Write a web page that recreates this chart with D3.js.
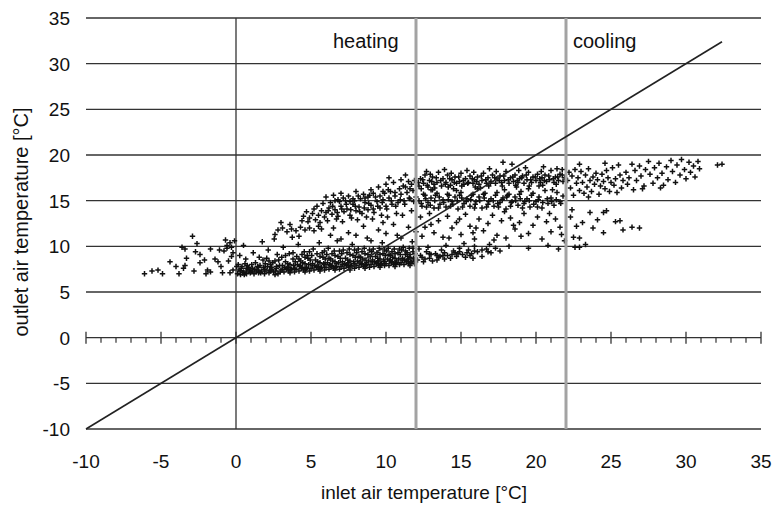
<!DOCTYPE html>
<html><head><meta charset="utf-8">
<script src="https://cdn.jsdelivr.net/npm/d3@7"></script>
<style>body{margin:0;background:#fff}svg{display:block;font-family:"Liberation Sans",Arial,sans-serif}</style>
</head><body><svg id="c" width="772" height="506"></svg>
<script>
const xTicks = [-10,-5,0,5,10,15,20,25,30,35];
const yTicks = [-10,-5,0,5,10,15,20,25,30,35];
const modeLines = [{x:12,label:"heating"},{x:22,label:"cooling"}];
const diagLine = [[-10,-10],[32.4,32.4]];

const belowZero = [[-6.1,7.0],[-5.6,7.3],[-5.2,7.4],[-4.9,7.0],[-4.4,8.3],[-3.8,7.0],[-3.5,7.6],[-3.4,7.9],[-3.3,8.7],[-2.9,11.1],[-3.6,9.9],[-3.4,9.7],[-2.6,10.3],[-2.7,9.4],[-2.4,9.1],[-2.4,8.2],[-2.1,8.5],[-1.9,7.4],[-1.7,9.7],[-1.7,7.2],[-1.2,8.3],[-1.4,8.6],[-1.1,9.6],[-0.7,10.7],[-0.6,9.8],[-0.8,9.5],[-0.9,7.1],[-0.4,7.1],[-0.5,8.4],[-0.3,9.9],[-0.4,10.4],[-0.2,9.3],[-0.6,10.1],[-0.3,8.9],[-1.0,7.8],[-2.0,7.0],[-4.0,7.8],[-2.8,7.3],[-0.1,10.6],[-0.2,7.4]];

const lowBand = [[0.1,7.0],[0.2,7.4],[0.3,6.9],[0.4,7.8],[0.5,7.2],[0.6,8.1],[0.7,7.0],[0.8,7.5],[0.9,7.3],[0.15,8.0],[0.35,7.6],[0.55,6.9],[0.75,7.9],[0.95,7.1],[0.25,9.0],[0.65,8.6],[0.85,7.7],[0.45,7.1],[0.05,7.8],[0.5,10.1],
[1.0,7.2],[1.1,7.6],[1.2,7.0],[1.3,8.2],[1.4,7.4],[1.5,7.1],[1.6,7.9],[1.7,7.3],[1.8,8.5],[1.9,7.0],[1.05,8.0],[1.25,7.5],[1.45,7.8],[1.65,7.1],[1.85,7.7],[1.15,9.3],[1.55,8.8],[1.75,10.5],[1.35,7.2],[1.95,8.1],
[2.0,7.3],[2.1,7.8],[2.2,7.1],[2.3,8.0],[2.4,7.5],[2.5,7.2],[2.6,8.4],[2.7,7.6],[2.8,7.0],[2.9,7.9],[2.05,8.7],[2.25,7.4],[2.45,8.2],[2.65,7.3],[2.85,8.5],[2.15,9.6],[2.55,10.8],[2.75,9.1],[2.35,7.7],[2.95,7.2],
[3.0,7.4],[3.1,7.9],[3.2,7.2],[3.3,8.3],[3.4,7.6],[3.5,7.3],[3.6,8.0],[3.7,7.5],[3.8,8.6],[3.9,7.2],[3.05,8.8],[3.25,7.7],[3.45,8.1],[3.65,7.4],[3.85,7.9],[3.15,9.9],[3.55,9.2],[3.75,11.0],[3.35,7.5],[3.95,8.3],
[4.0,7.5],[4.1,8.0],[4.2,7.3],[4.3,8.4],[4.4,7.7],[4.5,7.4],[4.6,8.1],[4.7,7.6],[4.8,8.7],[4.9,7.3],[4.05,8.9],[4.25,7.8],[4.45,8.2],[4.65,7.5],[4.85,8.0],[4.15,10.2],[4.55,9.4],[4.75,9.0],[4.35,7.6],[4.95,8.5],
[5.0,7.6],[5.1,8.1],[5.2,7.4],[5.3,8.5],[5.4,7.8],[5.5,7.5],[5.6,8.2],[5.7,7.7],[5.8,8.8],[5.9,7.4],[5.05,9.0],[5.25,7.9],[5.45,8.3],[5.65,7.6],[5.85,8.1],[5.15,9.7],[5.55,10.4],[5.75,9.3],[5.35,7.7],[5.95,8.6],
[6.0,7.7],[6.1,8.2],[6.2,7.5],[6.3,8.6],[6.4,7.9],[6.5,7.6],[6.6,8.3],[6.7,7.8],[6.8,8.9],[6.9,7.5],[6.05,9.1],[6.25,8.0],[6.45,8.4],[6.65,7.7],[6.85,8.2],[6.15,9.8],[6.55,9.5],[6.75,10.6],[6.35,7.8],[6.95,8.7],
[7.0,7.8],[7.1,8.3],[7.2,7.6],[7.3,8.7],[7.4,8.0],[7.5,7.7],[7.6,8.4],[7.7,7.9],[7.8,9.0],[7.9,7.6],[7.05,9.2],[7.25,8.1],[7.45,8.5],[7.65,7.8],[7.85,8.3],[7.15,9.6],[7.55,9.7],[7.75,10.2],[7.35,7.9],[7.95,8.8],
[8.0,7.9],[8.1,8.4],[8.2,7.7],[8.3,8.8],[8.4,8.1],[8.5,7.8],[8.6,8.5],[8.7,8.0],[8.8,9.1],[8.9,7.7],[8.05,9.3],[8.25,8.2],[8.45,8.6],[8.65,7.9],[8.85,8.4],[8.15,9.7],[8.55,9.8],[8.75,10.9],[8.35,8.0],[8.95,8.9],
[9.0,8.0],[9.1,8.5],[9.2,7.8],[9.3,8.9],[9.4,8.2],[9.5,7.9],[9.6,8.6],[9.7,8.1],[9.8,9.2],[9.9,7.9],[9.05,9.4],[9.25,8.3],[9.45,8.7],[9.65,8.0],[9.85,8.5],[9.15,9.7],[9.55,9.8],[9.75,10.4],[9.35,8.1],[9.95,9.0],
[10.0,8.1],[10.1,8.6],[10.2,7.9],[10.3,9.0],[10.4,8.3],[10.5,8.0],[10.6,8.7],[10.7,8.2],[10.8,9.3],[10.9,8.0],[10.05,9.5],[10.25,8.4],[10.45,8.8],[10.65,8.1],[10.85,8.6],[10.15,9.8],[10.55,9.7],[10.75,11.2],[10.35,8.2],[10.95,9.1],
[11.0,8.2],[11.1,8.7],[11.2,8.0],[11.3,9.1],[11.4,8.4],[11.5,8.1],[11.6,8.8],[11.7,8.3],[11.8,9.4],[11.9,8.1],[11.05,9.6],[11.25,8.5],[11.45,8.9],[11.65,8.2],[11.85,8.7],[11.15,9.9],[11.55,9.8],[11.75,10.5],[11.35,8.3],[11.95,9.2],
[12.1,8.5],[12.3,9.0],[12.5,8.3],[12.7,9.4],[12.9,8.7],[13.1,8.4],[13.3,9.2],[13.5,8.8],[13.7,9.6],[13.9,8.6],[14.1,9.0],[14.3,8.7],[14.5,9.5],[14.7,8.9],[14.9,9.8],[15.1,9.1],[15.3,8.8],[15.5,9.6],[15.7,9.2],[15.9,10.0],[16.1,9.4],[16.4,8.9],[16.7,9.7],[17.0,9.3],[12.2,9.7],[12.8,9.9],[13.4,8.5],[14.0,10.1],[14.6,9.3],[15.2,10.3],[13.0,9.1],[13.8,9.0],[15.8,8.7],[16.9,10.2],[18.2,10.0],[19.5,9.8],[20.8,10.1],[21.5,9.7]];

const lowCore = [[0.3,7.3],[0.7,7.6],[1.1,7.4],[1.5,7.7],[1.9,7.5],[2.3,7.3],[2.7,7.8],[3.1,7.5],[3.5,7.7],[3.9,7.6],[4.3,7.9],[4.7,7.7],[5.1,7.9],[5.5,7.8],[5.9,8.0],[6.3,7.9],[6.7,8.1],[7.1,8.0],[7.5,8.2],[7.9,8.1],[8.3,8.3],[8.7,8.2],[9.1,8.3],[9.5,8.4],[9.9,8.3],[10.3,8.5],[10.7,8.4],[11.1,8.5],[11.5,8.6],[11.9,8.5],[0.6,7.1],[1.6,7.2],[2.6,6.9],[3.6,7.1],[4.6,7.2],[5.6,7.3],[6.6,7.4],[7.6,7.4],[8.6,7.6],[9.6,7.7],[10.6,7.8],[11.6,7.9],[2.2,8.4],[4.2,8.6],[6.2,8.7],[8.2,8.9],[10.2,9.1],[11.4,9.3],
[3.3,9.0],[3.8,9.3],[4.4,9.1],[4.9,9.4],[5.4,9.2],[5.9,9.5],[6.4,9.2],[6.9,9.5],[7.4,9.3],[7.9,9.6],[8.4,9.4],[8.9,9.6],[9.4,9.3],[9.9,9.6],[10.4,9.4],[10.9,9.7],[11.3,9.5],[11.8,9.8],[4.6,8.8],[5.6,8.9],[6.6,9.0],[7.6,9.1],[8.6,9.2],[9.6,9.1],[10.6,9.2],[11.6,9.1],
[12.4,8.8],[12.9,9.2],[13.4,9.0],[13.9,9.3],[14.4,9.1],[14.9,9.4],[15.4,9.3],[15.9,9.5],[16.4,9.6],[16.8,9.4],[12.6,8.6],[13.6,8.9],[14.8,9.2],[15.6,9.0],[17.3,9.8],[17.6,9.5]];

const midBand = [[2.8,11.8],[3.1,12.0],[3.4,11.6],[3.7,11.9],[4.0,11.7],[4.3,12.1],[4.6,11.8],[4.9,12.0],[5.2,11.7],[5.5,12.2],[5.7,11.9],[3.0,12.6],[3.6,12.4],[2.6,11.3],[4.2,11.1],
[4.5,13.3],[4.7,13.8],[4.9,13.1],[5.1,13.6],[5.3,12.9],[5.5,13.4],[5.7,13.9],[5.9,13.2],[4.8,12.7],[5.2,14.1],[5.6,12.6],[6.0,13.7],
[6.2,14.2],[6.4,13.5],[6.6,14.0],[6.8,13.3],[7.0,14.4],[7.2,13.8],[7.4,14.1],[7.6,13.4],[7.8,14.6],[8.0,13.9],[8.2,14.3],[8.4,13.6],[8.6,14.8],[8.8,14.0],[9.0,14.5],[9.2,13.7],[9.4,14.9],[9.6,14.2],[9.8,15.1],[10.0,14.4],[10.2,15.3],[10.4,14.6],[10.6,15.5],[10.8,14.8],[11.0,15.7],[11.2,15.0],[11.4,15.9],[11.6,15.2],[11.8,16.1],[12.0,15.4],
[6.0,15.4],[6.5,15.6],[7.0,15.8],[7.5,15.5],[8.0,16.0],[8.5,15.7],[9.0,16.2],[9.5,16.5],[10.0,16.8],[10.5,17.0],[11.0,17.3],[11.5,17.1],[10.2,17.5],[11.3,17.8],[9.8,16.0],[8.8,15.4],[7.8,15.2],[6.8,15.1],
[6.3,14.8],[6.9,14.9],[7.3,15.0],[7.9,15.0],[8.3,15.2],[8.9,15.6],[9.3,15.4],[9.9,15.8],[10.3,16.0],[10.9,16.3],[11.3,16.5],[11.7,16.8],[11.9,17.2],
[6.1,12.8],[6.7,13.0],[7.1,12.7],[7.7,13.1],[8.1,12.9],[8.7,13.2],[9.1,13.0],[9.7,13.4],[10.1,13.2],[10.7,13.6],[11.1,13.4],[11.7,13.9],
[6.5,12.0],[7.5,11.5],[8.5,12.2],[9.5,11.8],[10.5,12.4],[11.5,12.1],[7.0,10.8],[8.0,11.2],[9.0,10.6],[10.0,11.4],[11.0,10.9],[12.0,11.6],[6.3,11.2],[9.8,12.6]];

const midCore = [[6.15,13.9],[6.45,14.4],[6.75,13.7],[7.05,14.1],[7.35,14.6],[7.65,14.0],[7.95,14.4],[8.25,13.8],[8.55,14.2],[8.85,14.7],[9.15,14.1],[9.45,14.4],[9.75,14.8],[10.05,14.1],[10.35,15.0],[10.65,14.4],[10.95,15.1],[11.25,14.6],[11.55,15.3],[11.85,14.9],[7.15,15.3],[8.15,15.5],[9.15,15.8],[10.15,16.2],[11.15,16.6],[6.6,15.0],[7.6,14.9],[8.6,15.3],[9.6,15.5],[10.6,15.9],[11.6,16.3],[5.4,14.4],[5.8,14.7],[4.4,12.8]];

const highBand = [[12.2,16.6],[12.3,17.4],[12.5,16.9],[12.6,17.8],[12.8,16.5],[12.9,17.2],[13.1,17.6],[13.2,16.8],[13.4,17.0],[13.5,18.1],[13.7,16.6],[13.8,17.4],[14.0,17.0],[14.1,17.8],[14.3,16.7],[14.4,17.3],[14.6,17.6],[14.7,16.9],[14.9,17.1],[15.0,18.0],[15.2,16.8],[15.3,17.4],[15.5,17.0],[15.6,17.7],[15.8,16.9],[15.9,17.3],[16.1,17.6],[16.2,16.8],[16.4,17.2],[16.5,18.0],[16.7,16.9],[16.8,17.5],[17.0,17.1],[17.1,17.8],[17.3,16.9],[17.4,17.4],[17.6,17.7],[17.7,17.0],[17.9,17.2],[18.0,18.2],[18.2,16.9],[18.3,17.5],[18.5,17.1],[18.6,17.8],[18.8,17.0],[18.9,17.4],[19.1,17.7],[19.2,16.9],[19.4,17.3],[19.5,18.1],[19.7,17.0],[19.8,17.6],[20.0,17.2],[20.1,17.9],[20.3,17.0],[20.4,17.5],[20.6,17.8],[20.7,17.1],[20.9,17.3],[21.0,18.3],[21.2,17.0],[21.3,17.6],[21.5,17.2],[21.6,17.9],[21.8,17.1],[21.9,17.5],
[12.7,18.2],[13.9,18.4],[15.4,18.3],[16.9,18.5],[17.8,19.2],[18.4,19.0],[19.3,18.6],[20.5,18.7],[21.4,18.5],[16.3,16.4],[18.7,16.5],[20.2,16.6],[14.5,16.3],[13.0,16.2],
[12.2,15.0],[12.4,14.4],[12.6,15.6],[12.8,14.8],[13.0,15.3],[13.2,14.2],[13.4,15.8],[13.6,14.6],[13.8,15.1],[14.0,14.3],[14.2,15.6],[14.4,14.9],[14.6,15.4],[14.8,14.1],[15.0,15.9],[15.2,14.7],[15.4,15.2],[15.6,14.4],[15.8,15.7],[16.0,14.9],[16.2,15.4],[16.4,14.2],[16.6,15.8],[16.8,14.6],[17.0,15.2],[17.2,14.4],[17.4,15.9],[17.6,14.8],[17.8,15.3],[18.0,14.1],[18.2,15.7],[18.4,14.9],[18.6,15.4],[18.8,14.5],[19.0,16.0],[19.2,14.7],[19.4,15.2],[19.6,14.3],[19.8,15.8],[20.0,14.9],[20.2,15.4],[20.4,14.2],[20.6,16.1],[20.8,14.7],[21.0,15.3],[21.2,14.5],[21.4,15.9],[21.6,14.9],[21.8,15.5],
[12.5,15.7],[13.3,15.6],[14.1,15.7],[14.9,15.6],[15.7,15.6],[16.5,15.7],[17.3,15.6],[18.1,15.6],[18.9,15.7],[19.7,15.6],
[12.7,14.3],[13.5,14.2],[14.3,14.4],[15.1,14.3],[15.9,14.2],[16.7,14.3],[17.5,14.3],[18.3,14.4],[19.1,14.2],[20.1,14.3],
[13.1,16.2],[14.7,16.1],[16.1,16.3],[17.9,16.2],[19.5,16.3],[21.1,16.2]];

const highCore = [[12.15,17.0],[12.45,17.3],[12.75,16.7],[13.05,17.1],[13.35,17.5],[13.65,17.2],[13.95,16.8],[14.25,17.4],[14.55,17.0],[14.85,17.6],[15.15,17.2],[15.45,16.9],[15.75,17.4],[16.05,17.1],[16.35,17.7],[16.65,17.3],[16.95,16.9],[17.25,17.5],[17.55,17.2],[17.85,17.7],[18.15,17.3],[18.45,17.6],[18.75,17.2],[19.05,17.5],[19.35,17.8],[19.65,17.3],[19.95,17.6],[20.25,17.4],[20.55,17.2],[20.85,17.7],[21.15,17.4],[21.45,17.6],[21.75,17.8],[12.35,16.3],[13.25,16.4],[14.15,16.5],[15.05,16.6],[15.95,16.5],[16.85,16.6],[17.75,16.6],[18.65,16.7],[19.55,16.6],[20.45,16.7],[21.35,16.8],[12.95,17.9],[14.35,18.0],[15.85,18.1],[17.35,18.2],[18.85,18.3],[20.35,18.2],[21.75,18.4],
[12.35,14.7],[12.65,15.2],[12.95,14.5],[13.25,15.0],[13.55,15.4],[13.85,14.8],[14.15,15.1],[14.45,14.6],[14.75,15.0],[15.05,15.3],[15.35,14.9],[15.65,15.1],[15.95,14.6],[16.25,15.0],[16.55,15.3],[16.85,14.9],[17.15,15.0],[17.45,14.7],[17.75,15.1],[18.05,15.4],[18.35,14.8],[18.65,15.0],[18.95,15.2],[19.25,14.9],[19.55,15.0],[19.85,14.6],[20.15,15.1],[20.45,14.8],[20.75,15.2],[21.05,14.9],[21.35,15.1],[21.65,14.7]];

const scatterBand = [[12.3,13.2],[12.6,12.1],[12.9,13.6],[13.2,11.5],[13.5,12.8],[13.8,11.0],[14.1,13.3],[14.4,12.0],[14.7,12.6],[15.0,11.3],[15.3,13.5],[15.6,12.2],[15.9,10.8],[16.2,13.0],[16.5,11.7],[16.8,12.5],[17.1,13.4],[17.4,11.2],[17.7,12.8],[18.0,10.9],[18.3,13.1],[18.6,11.9],[18.9,12.6],[19.2,13.6],[19.5,11.4],[19.8,12.3],[20.1,13.2],[20.4,10.8],[20.7,12.7],[21.0,11.6],[21.3,13.0],[21.6,12.1],[21.9,10.6],[13.0,12.4],[14.9,13.0],[16.0,12.0],[17.9,13.8],[19.0,11.1],[20.9,13.6],[15.8,11.5],[12.4,11.1],[18.5,12.3],[17.2,10.7],[14.2,10.9],[21.7,11.3]];

const coolingBand = [[22.1,17.2],[22.2,18.1],[22.3,16.4],[22.4,17.7],[22.5,15.6],[22.6,18.4],[22.7,16.9],[22.8,17.5],[22.9,16.1],[23.0,18.2],[23.1,17.0],[23.2,15.8],[23.3,17.8],[23.4,16.5],[23.5,18.5],[23.6,17.2],[23.7,16.0],[23.8,17.6],[23.9,16.8],[24.0,18.0],[24.1,17.3],[24.2,15.7],[24.3,16.6],[24.4,17.9],[24.5,17.1],[24.6,16.3],[24.7,18.3],[24.8,17.5],[24.9,16.0],[25.0,17.0],[25.1,18.6],[25.2,16.7],[25.3,17.4],[25.4,15.9],[25.6,17.8],[25.7,16.4],[25.8,17.2],[26.0,18.1],[26.1,16.8],[26.2,17.5],
[26.4,19.0],[26.6,18.3],[26.7,17.2],[26.9,18.8],[27.0,17.7],[27.2,16.6],[27.3,18.4],[27.5,19.3],[27.6,17.9],[27.8,16.9],[27.9,18.6],[28.1,17.5],[28.2,19.1],[28.4,18.0],[28.5,16.7],[28.7,18.7],[28.8,17.3],[29.0,19.4],[29.1,18.2],[29.3,17.0],[29.4,18.9],[29.6,17.8],[29.7,19.5],[29.9,18.4],[30.0,17.4],[30.2,19.2],[30.3,18.1],[30.5,18.8],[30.6,17.6],[30.8,19.3],[30.9,18.5],[27.1,16.3],[28.3,16.4],[26.5,16.2],[23.5,15.4],[22.9,19.0],[24.6,19.1],[25.5,18.9],[32.1,18.9],[32.4,19.0],
[22.3,13.2],[23.6,13.7],[24.5,13.7],[24.7,13.9],[23.8,12.0],[24.5,11.5],[25.3,12.7],[25.6,12.8],[25.8,11.8],[26.4,12.1],[26.9,12.0],[22.5,11.0],[22.9,10.9],[22.6,9.9],[22.9,9.9],[23.1,12.6],[22.7,12.2],[24.1,12.9],[23.3,10.2],[22.4,14.0]];

const svg = d3.select("#c");
const x = d3.scaleLinear().domain([-10,35]).range([86,761]);
const y = d3.scaleLinear().domain([-10,35]).range([429,18]);
const gridColor = "#333";

svg.append("g").selectAll("line").data(yTicks).join("line")
  .attr("x1", x(-10)).attr("x2", x(35))
  .attr("y1", d => y(d)).attr("y2", d => y(d))
  .attr("stroke", gridColor).attr("stroke-width", 1.3);

svg.append("line").attr("x1", x(0)).attr("x2", x(0)).attr("y1", y(-10)).attr("y2", y(35))
  .attr("stroke", gridColor).attr("stroke-width", 1.3);

const minorTicks = d3.range(-10, 36, 1).filter(v => v % 5 !== 0);
svg.append("g").selectAll("line").data(minorTicks).join("line")
  .attr("x1", d => x(d)).attr("x2", d => x(d))
  .attr("y1", y(0)).attr("y2", y(0) + 5)
  .attr("stroke", gridColor).attr("stroke-width", 1.2);
svg.append("g").selectAll("line").data(xTicks).join("line")
  .attr("x1", d => x(d)).attr("x2", d => x(d))
  .attr("y1", y(0) - 6).attr("y2", y(0) + 6)
  .attr("stroke", gridColor).attr("stroke-width", 1.3);

const allPoints = [].concat(belowZero, lowBand, lowCore, midBand, midCore, highBand, highCore, scatterBand, coolingBand);
svg.append("g").selectAll("path").data(allPoints).join("path")
  .attr("transform", d => `translate(${x(d[0])},${y(d[1])})`)
  .attr("d", "M-2.7,0H2.7M0,-2.7V2.7")
  .attr("stroke", "#111").attr("stroke-width", 1.5);

svg.append("g").selectAll("line").data(modeLines).join("line")
  .attr("x1", d => x(d.x)).attr("x2", d => x(d.x))
  .attr("y1", y(-10)).attr("y2", y(35))
  .attr("stroke", "#a3a3a3").attr("stroke-width", 3);

svg.append("path").datum(diagLine)
  .attr("d", d3.line().x(d => x(d[0])).y(d => y(d[1])))
  .attr("stroke", "#222").attr("stroke-width", 1.6).attr("fill", "none");

svg.append("g").selectAll("text").data(modeLines).join("text")
  .attr("x", d => d.x === 12 ? x(d.x) - 83 : x(d.x) + 7)
  .attr("y", 48).attr("font-size", 20).attr("fill", "#111")
  .text(d => d.label);

svg.append("g").selectAll("text").data(yTicks).join("text")
  .attr("x", 70).attr("y", d => y(d)).attr("dy", "0.36em")
  .attr("text-anchor", "end").attr("font-size", 19).attr("fill", "#111")
  .text(d => d);
svg.append("g").selectAll("text").data(xTicks).join("text")
  .attr("x", d => x(d)).attr("y", 468)
  .attr("text-anchor", "middle").attr("font-size", 19).attr("fill", "#111")
  .text(d => d);

svg.append("text").attr("x", 424).attr("y", 499).attr("text-anchor", "middle")
  .attr("font-size", 19).attr("fill", "#111").text("inlet air temperature [°C]");
svg.append("text").attr("transform", "translate(28,222) rotate(-90)").attr("text-anchor", "middle")
  .attr("font-size", 20).attr("fill", "#111").text("outlet air temperature [°C]");
</script></body></html>
